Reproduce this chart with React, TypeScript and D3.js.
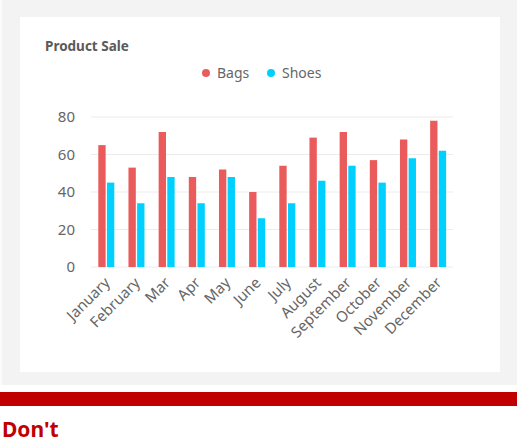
import { useEffect, useRef } from 'react';
import * as d3 from 'd3';

const months = ['January', 'February', 'Mar', 'Apr', 'May', 'June', 'July', 'August', 'September', 'October', 'November', 'December'];
const bags = [65, 53, 72, 48, 52, 40, 54, 69, 72, 57, 68, 78];
const shoes = [45, 34, 48, 34, 48, 26, 34, 46, 54, 45, 58, 62];
const seriesNames = ['Bags', 'Shoes'];
const seriesColors = ['#ea5c5c', '#00d0ff'];
const yTicks = [0, 20, 40, 60, 80];

const W = 517;
const H = 443;
const FONT = '"Noto Sans", "Open Sans", sans-serif';

export default function App() {
    const svgRef = useRef<SVGSVGElement>(null);

    useEffect(() => {
        if (!svgRef.current) return;
        const svg = d3.select(svgRef.current);
        svg.selectAll('*').remove();

        // page background + card
        svg.append('rect').attr('width', W).attr('height', 385).attr('fill', '#f3f3f4');
        svg.append('rect').attr('x', 0).attr('y', 0).attr('width', 2).attr('height', 385).attr('fill', '#fbfbfb');
        svg.append('rect').attr('x', 20).attr('y', 17).attr('width', 480).attr('height', 355).attr('fill', '#ffffff');
        svg.append('rect').attr('x', 0).attr('y', 392).attr('width', W).attr('height', 14).attr('fill', '#c00000');
        svg.append('text')
            .attr('x', 2).attr('y', 437)
            .attr('font-family', FONT).attr('font-size', 21).attr('font-weight', 700)
            .attr('fill', '#c00000')
            .text("Don't");

        // title
        svg.append('text')
            .attr('x', 45).attr('y', 51)
            .attr('font-family', FONT).attr('font-size', 13.5).attr('font-weight', 700)
            .attr('fill', '#5a5a5a')
            .text('Product Sale');

        // legend
        const legendX = [206, 271];
        seriesNames.forEach((name, i) => {
            svg.append('circle').attr('cx', legendX[i]).attr('cy', 73).attr('r', 4).attr('fill', seriesColors[i]);
            svg.append('text')
                .attr('x', legendX[i] + 11).attr('y', 78)
                .attr('font-family', FONT).attr('font-size', 14)
                .attr('fill', '#666')
                .text(name);
        });

        const x = d3.scaleBand<string>().domain(months).range([91, 453]);
        const xInner = d3.scaleBand<string>().domain(seriesNames).range([7.3, 23.3]).paddingInner(0.15);
        const y = d3.scaleLinear().domain([0, 80]).range([267, 117]);

        // grid
        svg.append('g').selectAll('line')
            .data(yTicks)
            .join('line')
            .attr('x1', 91).attr('x2', 453)
            .attr('y1', d => y(d)).attr('y2', d => y(d))
            .attr('stroke', '#ececec').attr('stroke-width', 1);

        svg.append('g').selectAll('text')
            .data(yTicks)
            .join('text')
            .attr('x', 75).attr('y', d => y(d))
            .attr('dy', '0.35em')
            .attr('text-anchor', 'end')
            .attr('font-family', FONT).attr('font-size', 15)
            .attr('fill', '#666')
            .text(d => d);

        // bars
        const values = [bags, shoes];
        seriesNames.forEach((name, si) => {
            svg.append('g').selectAll('rect')
                .data(months)
                .join('rect')
                .attr('x', (m) => (x(m) ?? 0) + (xInner(name) ?? 0))
                .attr('width', xInner.bandwidth())
                .attr('y', (_, i) => y(values[si][i]))
                .attr('height', (_, i) => y(0) - y(values[si][i]))
                .attr('fill', seriesColors[si]);
        });

        // x labels
        svg.append('g').selectAll('text')
            .data(months)
            .join('text')
            .attr('transform', m => `translate(${(x(m) ?? 0) + x.bandwidth() / 2 + 1},280) rotate(-45)`)
            .attr('dy', '0.35em')
            .attr('text-anchor', 'end')
            .attr('font-family', FONT).attr('font-size', 15)
            .attr('fill', '#666')
            .text(m => m);
    }, []);

    return (
        <div style={{ position: 'absolute', left: 0, top: 0, width: W, height: H, background: '#fff' }}>
            <svg ref={svgRef} width={W} height={H}></svg>
        </div>
    );
}
